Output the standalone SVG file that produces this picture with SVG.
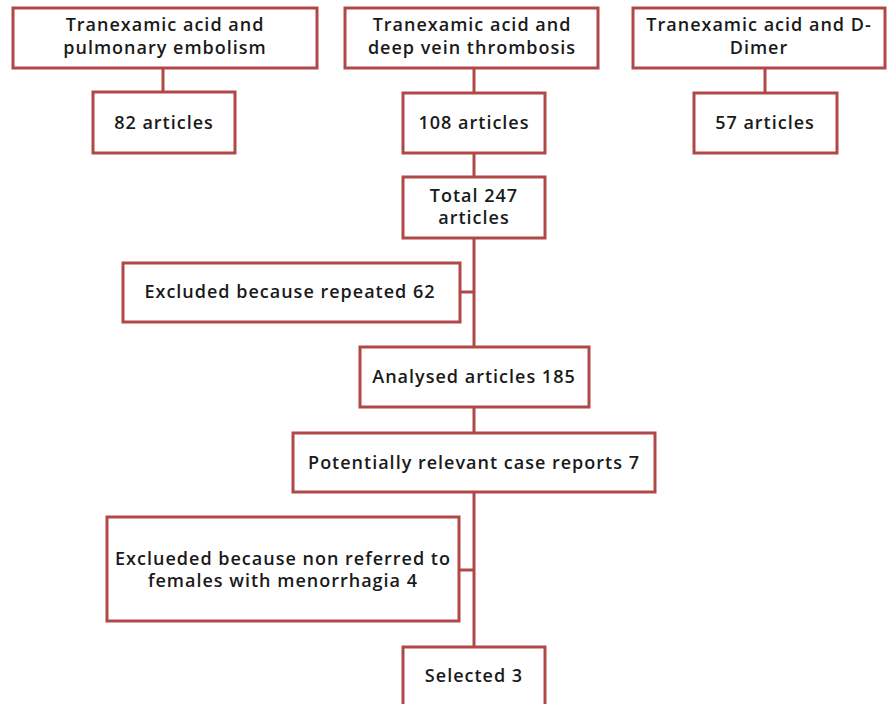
<svg xmlns="http://www.w3.org/2000/svg" width="888" height="704" viewBox="0 0 888 704">
<style>
.box{fill:#fff;stroke:#b04848;stroke-width:3}
.ln{stroke:#b04848;stroke-width:3;fill:none}
text{font-family:"Open Sans","Liberation Sans",sans-serif;font-weight:600;font-size:18px;letter-spacing:1px;fill:#1a1a1a;text-anchor:middle}
</style>
<rect width="888" height="704" fill="#fff"/>
<g id="connectors">
<line class="ln" x1="163" y1="68" x2="163" y2="92"/>
<line class="ln" x1="474" y1="68" x2="474" y2="93"/>
<line class="ln" x1="765" y1="68" x2="765" y2="93"/>
<line class="ln" x1="474" y1="153" x2="474" y2="177"/>
<line class="ln" x1="474" y1="238" x2="474" y2="347"/>
<line class="ln" x1="460" y1="292" x2="474" y2="292"/>
<line class="ln" x1="474" y1="407" x2="474" y2="433"/>
<line class="ln" x1="474" y1="492" x2="474" y2="647"/>
<line class="ln" x1="459" y1="570" x2="474" y2="570"/>
</g>
<g id="n1"><rect class="box" x="13" y="8" width="304" height="60"/><text x="165" y="31">Tranexamic acid and</text><text x="165" y="54">pulmonary embolism</text></g>
<g id="n2"><rect class="box" x="345" y="8" width="253" height="60"/><text x="472" y="31">Tranexamic acid and</text><text x="472" y="54">deep vein thrombosis</text></g>
<g id="n3"><rect class="box" x="633" y="8" width="252" height="60"/><text x="759" y="31">Tranexamic acid and D-</text><text x="759" y="54">Dimer</text></g>
<g id="n4"><rect class="box" x="93" y="92" width="142" height="61"/><text x="164" y="129">82 articles</text></g>
<g id="n5"><rect class="box" x="403" y="93" width="142" height="60"/><text x="474" y="129">108 articles</text></g>
<g id="n6"><rect class="box" x="694" y="93" width="143" height="60"/><text x="765" y="129">57 articles</text></g>
<g id="n7"><rect class="box" x="403" y="177" width="142" height="61"/><text x="474" y="202">Total 247</text><text x="474" y="224">articles</text></g>
<g id="n8"><rect class="box" x="123" y="263" width="337" height="59"/><text x="290" y="298">Excluded because repeated 62</text></g>
<g id="n9"><rect class="box" x="360" y="347" width="229" height="60"/><text x="474" y="383">Analysed articles 185</text></g>
<g id="n10"><rect class="box" x="293" y="433" width="362" height="59"/><text x="474" y="469">Potentially relevant case reports 7</text></g>
<g id="n11"><rect class="box" x="107" y="517" width="352" height="104"/><text x="283" y="565">Exclueded because non referred to</text><text x="283" y="587">females with menorrhagia 4</text></g>
<g id="n12"><rect class="box" x="403" y="647" width="142" height="70"/><text x="474" y="682">Selected 3</text></g>
</svg>
